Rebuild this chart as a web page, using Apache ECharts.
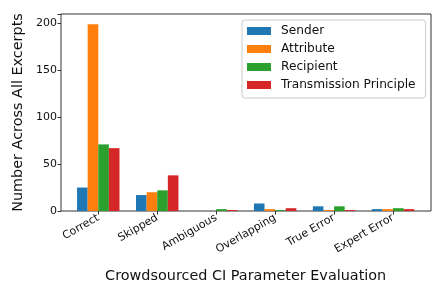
<!DOCTYPE html>
<html><head><meta charset="utf-8">
<script src="https://cdn.jsdelivr.net/npm/echarts@6/dist/echarts.min.js"></script>
<style>html,body{margin:0;padding:0;background:#fff}#c{width:445px;height:297px}</style>
</head><body><div id="c"></div>
<script>
var categories = ['Correct','Skipped','Ambiguous','Overlapping','True Error','Expert Error'];
var seriesNames = ['Sender','Attribute','Recipient','Transmission Principle'];
var sender = [25, 17, 0, 8, 5, 2];
var attribute = [199, 20, 0, 2, 1, 2];
var recipient = [71, 22, 2, 1, 5, 3];
var transmission = [67, 38, 1, 3, 1, 2];
var yTicks = [0, 50, 100, 150, 200];
var colors = ['#1f77b4','#ff7f0e','#2ca02c','#d62728'];
var values = [sender, attribute, recipient, transmission];
var font = 'DejaVu Sans';
var chart = echarts.init(document.getElementById('c'), null, {renderer:'canvas'});
chart.setOption({
  animation: false,
  textStyle: {fontFamily: font},
  grid: [
    {left: 68.8, right: 22.5, top: 14, bottom: 86, show: false},
    {left: 61, right: 14, top: 14, bottom: 86, show: true, borderColor: '#333', borderWidth: 1, backgroundColor: 'transparent'}
  ],
  legend: {
    orient: 'vertical', left: 242, top: 20,
    padding: [4, 10, 6, 5],
    itemWidth: 24, itemHeight: 8, itemGap: 4,
    borderColor: '#ccc', borderWidth: 1, borderRadius: 3,
    icon: 'rect',
    textStyle: {fontFamily: font, fontSize: 12.2, color: '#111', padding: [0,0,0,5], lineHeight: 14},
    data: seriesNames
  },
  xAxis: [
    {type: 'category', gridIndex: 0, data: categories,
     axisLine: {show: false},
     axisTick: {show: true, alignWithLabel: true, length: 3.5, lineStyle: {color: '#333'}},
     axisLabel: {rotate: 30, fontSize: 11, color: '#111', margin: 6, fontFamily: font},
     name: 'Crowdsourced CI Parameter Evaluation', nameLocation: 'middle', nameGap: 58,
     nameTextStyle: {fontSize: 14.4, color: '#111', fontFamily: font}
    },
    {type: 'value', gridIndex: 1, show: false, min: 0, max: 1}
  ],
  yAxis: [
    {type: 'value', gridIndex: 0, min: 0, max: 210, interval: 50, offset: 7.8,
     axisLine: {show: false},
     axisTick: {show: true, length: 3.5, lineStyle: {color: '#333'}},
     splitLine: {show: false},
     axisLabel: {fontSize: 11, color: '#111', margin: 4, fontFamily: font,
       formatter: function(v){ return yTicks.indexOf(v) >= 0 ? String(v) : ''; }},
     name: 'Number Across All Excerpts', nameLocation: 'middle', nameGap: 36,
     nameTextStyle: {fontSize: 14.4, color: '#111', fontFamily: font}
    },
    {type: 'value', gridIndex: 1, show: false, min: 0, max: 1}
  ],
  series: seriesNames.map(function(n, i){
    return {type: 'bar', name: n, xAxisIndex: 0, yAxisIndex: 0, data: values[i],
      barWidth: '18%', barGap: '0%', itemStyle: {color: colors[i]}};
  })
});
</script></body></html>
